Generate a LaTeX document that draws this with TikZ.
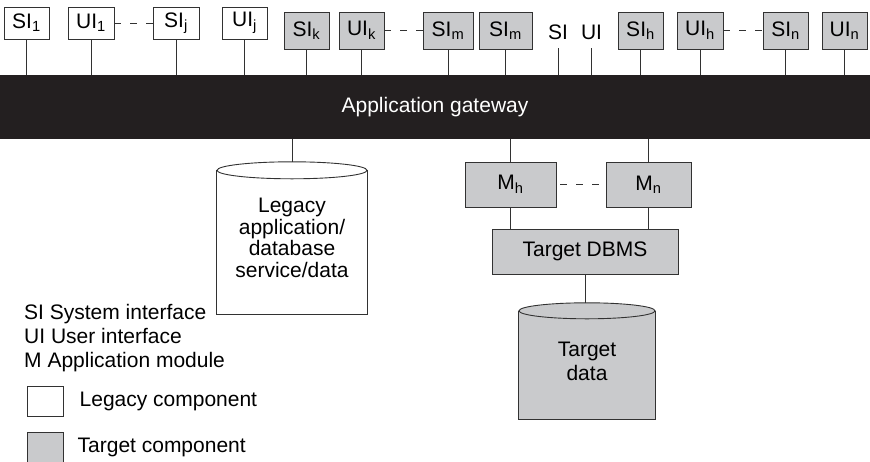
\documentclass[tikz,border=0pt]{standalone}
\usepackage{fontspec}
\setmainfont{Liberation Sans}
\usetikzlibrary{positioning,backgrounds}
\definecolor{tgtgray}{RGB}{201,202,204}
\definecolor{barblack}{RGB}{35,31,32}
\definecolor{linegray}{RGB}{50,50,50}

\begin{document}
\begin{tikzpicture}[
  x=1pt, y=-1pt,
  every node/.style={font=\fontsize{21}{24}\selectfont},
  legacybox/.style={draw=linegray, fill=white, line width=0.9pt, minimum width=45pt, minimum height=32pt, inner sep=0pt},
  targetbox/.style={draw=linegray, fill=tgtgray, line width=0.9pt, minimum width=45pt, minimum height=37pt, inner sep=0pt},
  freelabel/.style={inner xsep=0pt, inner ysep=8pt},
  link/.style={draw=linegray, line width=0.9pt},
  gap/.style={draw=linegray, line width=0.8pt, dash pattern=on 7pt off 9pt},
  note/.style={anchor=base west, inner sep=0pt}
]
\useasboundingbox (0,0) rectangle (870,461);

% interfaces on top
\node[legacybox] (si1) at (26.5,23) {SI\textsubscript{1}};
\node[legacybox, minimum width=46pt] (ui1) at (91,23) {UI\textsubscript{1}};
\node[legacybox, minimum width=46pt] (sij) at (176,23) {SI\textsubscript{j}};
\node[legacybox] (uij) at (244.5,23) {UI\textsubscript{j}};
\node[targetbox] (sik) at (306.5,30.5) {SI\textsubscript{k}};
\node[targetbox] (uik) at (361.5,30.5) {UI\textsubscript{k}};
\node[targetbox, minimum width=50pt] (sim) at (448,30.5) {SI\textsubscript{m}};
\node[targetbox, minimum width=53pt] (simb) at (505.5,30.5) {SI\textsubscript{m}};
\node[freelabel] (sifree) at (558,32.5) {SI};
\node[freelabel] (uifree) at (591.5,32.5) {UI};
\node[targetbox] (sih) at (640.5,30.5) {SI\textsubscript{h}};
\node[targetbox, minimum width=46pt] (uih) at (700,30.5) {UI\textsubscript{h}};
\node[targetbox] (sin) at (785.5,30.5) {SI\textsubscript{n}};
\node[targetbox] (uin) at (844.5,30.5) {UI\textsubscript{n}};

% gateway bar
\node[fill=barblack, text=white, minimum width=870pt, minimum height=64pt, inner sep=0pt] (gw) at (435,107) {Application gateway};

\foreach \nd in {si1,ui1,sij,uij,sik,uik,sim,simb,sifree,uifree,sih,uih,sin,uin}
  \draw[link] (\nd.south) -- (\nd.south |- gw.north);

\draw[gap] (ui1.east) -- (sij.west);
\draw[gap] (uik.east) -- (sim.west);
\draw[gap] (uih.east) -- (sin.west);

% legacy side
\node[minimum width=150pt, minimum height=152pt, inner sep=0pt, align=center,
      font=\fontsize{21}{21.5}\selectfont] (legacy) at (292,238)
  {Legacy\\application/\\database\\service/data};
\draw[link] (gw.south -| legacy.north) -- (legacy.north);

% target side
\node[targetbox, minimum width=91pt, minimum height=45pt] (mh) at (510.5,184.5) {M\textsubscript{h}};
\node[targetbox, minimum width=85pt, minimum height=45pt] (mn) at (648.5,184.5) {M\textsubscript{n}};
\node[targetbox, minimum width=186pt, minimum height=45pt] (dbms) at (585,251.5) {Target DBMS};
\node[minimum width=136pt, minimum height=116pt, inner sep=0pt, align=center] (tdata) at (587,361) {Target\\data};

\draw[link] (mh.north |- gw.south) -- (mh.north);
\draw[link] (mn.north |- gw.south) -- (mn.north);
\draw[gap] ([xshift=4pt]mh.east) -- (mn.west);
\draw[link] (mh.south) -- (mh.south |- dbms.north);
\draw[link] (mn.south) -- (mn.south |- dbms.north);
\draw[link] (dbms.south) -- (dbms.south |- tdata.north);

% cylinders behind their texts
\begin{scope}[on background layer]
  \draw[link, fill=white] ([yshift=-8.5pt]legacy.north west) -- (legacy.south west)
    -- (legacy.south east) -- ([yshift=-8.5pt]legacy.north east);
  \draw[link, fill=white] ([yshift=-8.5pt]legacy.north) ellipse [x radius=75pt, y radius=8.5pt];
  \draw[link, fill=tgtgray] ([yshift=-8pt]tdata.north west) -- (tdata.south west)
    -- (tdata.south east) -- ([yshift=-8pt]tdata.north east);
  \draw[link, fill=tgtgray] ([yshift=-8pt]tdata.north) ellipse [x radius=68pt, y radius=8pt];
\end{scope}

% key
\node[note] (kysi) at (24,319) {SI System interface};
\node[note] (kyui) at (24,343) {UI User interface};
\node[note] (kym) at (24,367) {M Application module};
\node[legacybox, minimum width=36pt, minimum height=30pt] (kyold) at (45,401) {};
\node[inner sep=0pt, right=16pt of kyold] (kyoldtxt) {Legacy component};
\node[targetbox, minimum width=36pt, minimum height=30pt] (kynew) at (45,447) {};
\node[inner sep=0pt, right=14pt of kynew] (kynewtxt) {Target component};
\end{tikzpicture}
\end{document}
